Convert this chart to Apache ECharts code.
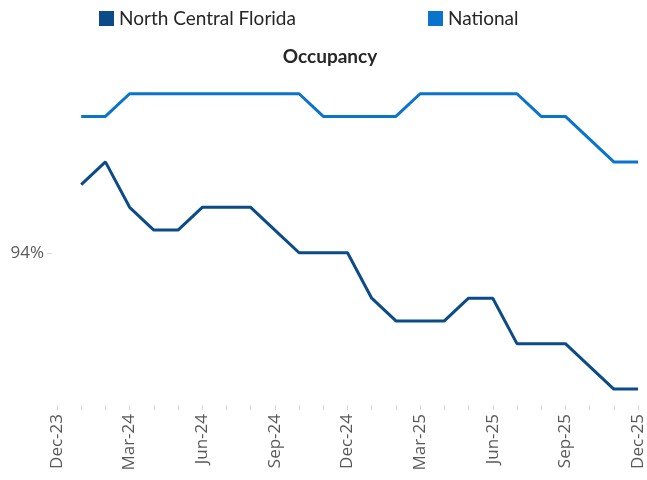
<!DOCTYPE html>
<html>
<head>
<meta charset="utf-8">
<script src="https://cdn.jsdelivr.net/npm/echarts@6/dist/echarts.min.js"></script>
<style>
  html, body { margin: 0; padding: 0; background: #fff; }
  #chart { width: 647px; height: 480px; }
</style>
</head>
<body>
<div id="chart"></div>
<script>
const months = [
  "Dec-23", "Jan-24", "Feb-24", "Mar-24", "Apr-24", "May-24", "Jun-24",
  "Jul-24", "Aug-24", "Sep-24", "Oct-24", "Nov-24", "Dec-24",
  "Jan-25", "Feb-25", "Mar-25", "Apr-25", "May-25", "Jun-25",
  "Jul-25", "Aug-25", "Sep-25", "Oct-25", "Nov-25", "Dec-25",
];
// occupancy %, Dec-23 has no value
const northCentralFlorida = [
  null, 94.3, 94.4, 94.2, 94.1, 94.1, 94.2, 94.2, 94.2, 94.1, 94.0, 94.0, 94.0,
  93.8, 93.7, 93.7, 93.7, 93.8, 93.8, 93.6, 93.6, 93.6, 93.5, 93.4, 93.4,
];
const national = [
  null, 94.6, 94.6, 94.7, 94.7, 94.7, 94.7, 94.7, 94.7, 94.7, 94.7, 94.6, 94.6,
  94.6, 94.6, 94.7, 94.7, 94.7, 94.7, 94.7, 94.6, 94.6, 94.5, 94.4, 94.4,
];
const yLabels = [94];

const legendFont = "Lato, 'Noto Sans', sans-serif";
const axisFont = "'Open Sans', 'Noto Sans', sans-serif";
const chart = echarts.init(document.getElementById("chart"));

chart.setOption({
  animation: false,
  title: {
    text: "Occupancy",
    left: 325,
    top: 42,
    textAlign: "center",
    textStyle: { fontFamily: legendFont, fontSize: 19, fontWeight: "bold", color: "#262626" },
  },
  legend: [
    {
      data: ["North Central Florida"],
      left: 94,
      top: 4,
      icon: "rect",
      itemWidth: 15,
      itemHeight: 15,
      itemGap: 6,
      textStyle: { fontFamily: legendFont, fontSize: 19, color: "#262626" },
    },
    {
      data: ["National"],
      left: 423,
      top: 4,
      icon: "rect",
      itemWidth: 15,
      itemHeight: 15,
      textStyle: { fontFamily: legendFont, fontSize: 19, color: "#262626" },
    },
  ],
  grid: { left: 57, right: 9, top: 71, bottom: 75 },
  xAxis: {
    type: "category",
    data: months,
    boundaryGap: false,
    axisLine: { show: false },
    axisTick: { show: true, interval: 0, length: 5, lineStyle: { color: "#d9d9d9" } },
    axisLabel: {
      interval: 2,
      rotate: 90,
      margin: 9,
      fontFamily: axisFont,
      fontSize: 17,
      color: "#595959",
    },
  },
  yAxis: {
    type: "value",
    min: 93.33,
    max: 94.8,
    offset: 5,
    splitLine: { show: false },
    axisLine: { show: false },
    axisTick: {
      show: true,
      customValues: yLabels,
      length: 5,
      lineStyle: { color: "#d9d9d9" },
    },
    axisLabel: {
      customValues: yLabels,
      formatter: (v) => v + "%",
      margin: 8,
      fontFamily: axisFont,
      fontSize: 17,
      color: "#595959",
    },
  },
  series: [
    {
      name: "North Central Florida",
      type: "line",
      data: northCentralFlorida,
      symbol: "none",
      itemStyle: { color: "#0b4b87" },
      lineStyle: { width: 3, color: "#0b4b87" },
    },
    {
      name: "National",
      type: "line",
      data: national,
      symbol: "none",
      itemStyle: { color: "#0a73cc" },
      lineStyle: { width: 3, color: "#0a73cc" },
    },
  ],
});
</script>
</body>
</html>
